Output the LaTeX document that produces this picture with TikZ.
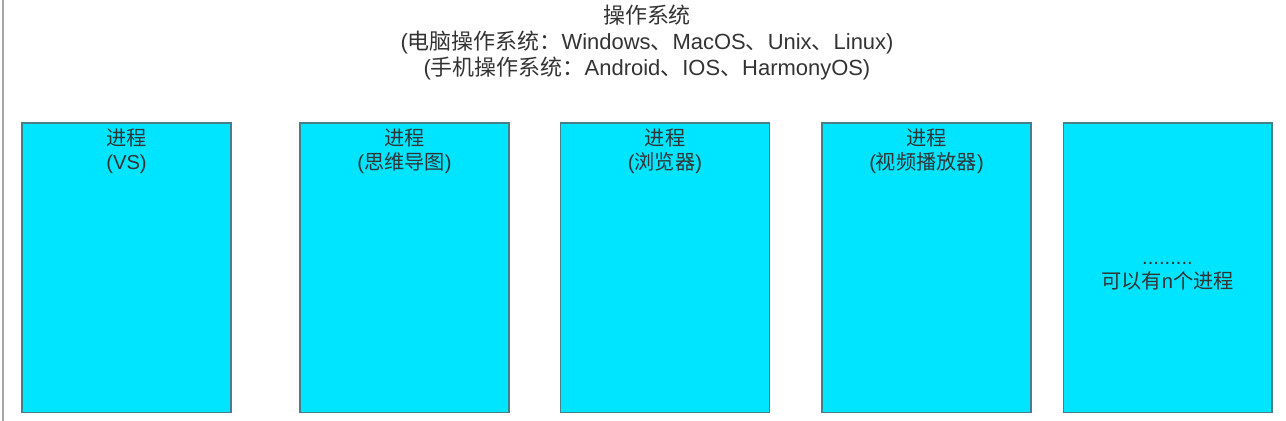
\documentclass[tikz,border=0pt]{standalone}
\usepackage{fontspec}
\setmainfont{Liberation Sans}
\newfontfamily\cjk{Noto Sans CJK SC}
\usetikzlibrary{positioning}
\definecolor{procfill}{HTML}{00E5FF}
\definecolor{procedge}{HTML}{467E8A}
\definecolor{txt}{HTML}{333333}

\begin{document}
\begin{tikzpicture}[x=0.02cm, y=-0.02cm,
  proc/.style={draw=procedge, fill=procfill, minimum width=4.18cm, minimum height=5.8cm, inner sep=0pt, line width=0.6pt},
  lbl/.style={align=center, text=txt, font=\fontsize{11.5}{13.6}\selectfont, inner sep=2pt}]

  \useasboundingbox (0,0) rectangle (1286,421);
  \draw[gray!70, line width=1.2pt] (3,0) -- (3,421);

  % Title
  \node (os) [lbl, font=\fontsize{12.5}{14.8}\selectfont, anchor=north] at (647,1)
    {{\cjk 操作系统}\\
     ({\cjk 电脑操作系统：}Windows{\cjk 、}MacOS{\cjk 、}Unix{\cjk 、}Linux)\\
     ({\cjk 手机操作系统：}Android{\cjk 、}IOS{\cjk 、}HarmonyOS)};

  % Processes
  \node (vs) [proc] at (126.5,268) {};
  \node (mind) [proc] at (404.5,268) {};
  \node (browser) [proc] at (665,268) {};
  \node (player) [proc] at (926.5,268) {};
  \node (more) [proc] at (1167.5,268) {};

  % Labels
  \node (vslbl) [lbl, below=1.2pt of vs.north] {{\cjk 进程}\\(VS)};
  \node (mindlbl) [lbl, below=1.2pt of mind.north] {{\cjk 进程}\\({\cjk 思维导图})};
  \node (browserlbl) [lbl, below=1.2pt of browser.north] {{\cjk 进程}\\({\cjk 浏览器})};
  \node (playerlbl) [lbl, below=1.2pt of player.north] {{\cjk 进程}\\({\cjk 视频播放器})};
  \node (morelbl) [lbl, yshift=-0.17cm] at (more) {.........\\{\cjk 可以有}n{\cjk 个进程}};

\end{tikzpicture}
\end{document}
